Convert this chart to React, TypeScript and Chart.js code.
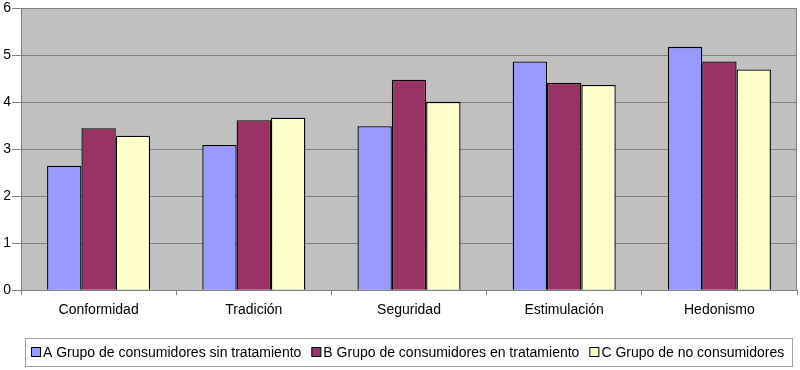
import React, { useEffect, useRef } from "react";
import { Chart, registerables } from "chart.js";

Chart.register(...registerables);

const categories = ["Conformidad", "Tradición", "Seguridad", "Estimulación", "Hedonismo"];
const seriesNames = [
  "A Grupo de consumidores sin tratamiento",
  "B Grupo de consumidores en tratamiento",
  "C Grupo de no consumidores",
];
const seriesA = [2.65, 3.09, 3.49, 4.87, 5.18];
const seriesB = [3.45, 3.62, 4.48, 4.41, 4.87];
const seriesC = [3.29, 3.67, 4.01, 4.37, 4.7];
const colors = ["#9999ff", "#993366", "#ffffcc"];

const FONT = "'Liberation Sans', Arial, sans-serif";

const bgPlugin = {
  id: "plotBg",
  beforeDraw(chart: any) {
    const { ctx, chartArea } = chart;
    ctx.save();
    ctx.fillStyle = "#c0c0c0";
    ctx.fillRect(chartArea.left, chartArea.top, chartArea.right - chartArea.left, chartArea.bottom - chartArea.top);
    ctx.restore();
  },
  afterDraw(chart: any) {
    const { ctx, chartArea } = chart;
    ctx.save();
    ctx.strokeStyle = "#808080";
    ctx.lineWidth = 1;
    ctx.beginPath();
    ctx.moveTo(Math.round(chartArea.right) - 0.5, chartArea.top);
    ctx.lineTo(Math.round(chartArea.right) - 0.5, chartArea.bottom);
    ctx.stroke();

    // legend
    const boxL = 25.5, boxT = 338.5, boxR = 792.5, boxB = 366.5;
    ctx.strokeStyle = "#a0a0a0";
    ctx.strokeRect(boxL, boxT, boxR - boxL, boxB - boxT);
    ctx.font = `14px ${FONT}`;
    ctx.textBaseline = "middle";
    ctx.textAlign = "left";
    const cy = 352;
    let x = 31;
    chart.data.datasets.forEach((ds: any) => {
      ctx.fillStyle = ds.backgroundColor;
      ctx.fillRect(x + 0.5, cy - 4.5, 9, 9);
      ctx.strokeStyle = "#000";
      ctx.strokeRect(x + 0.5, cy - 4.5, 9, 9);
      ctx.fillStyle = "#000";
      ctx.fillText(ds.label, x + 12, cy + 1);
      x += 12 + ctx.measureText(ds.label).width + 10;
    });
    ctx.restore();
  },
};

export default function App() {
  const ref = useRef<HTMLCanvasElement>(null);
  useEffect(() => {
    document.body.style.margin = "0";
    const values = [seriesA, seriesB, seriesC];
    const chart = new Chart(ref.current!, {
      type: "bar",
      data: {
        labels: categories,
        datasets: values.map((v, i) => ({
          label: seriesNames[i],
          data: v,
          backgroundColor: colors[i],
          borderColor: "#000000",
          borderWidth: 1.3,
          categoryPercentage: 0.664,
          barPercentage: 1,
        })),
      },
      options: {
        animation: false,
        responsive: false,
        maintainAspectRatio: false,
        layout: { padding: { left: 0, right: 3, top: 0, bottom: 44 } },
        plugins: {
          legend: { display: false },
          tooltip: { enabled: false },
        },
        scales: {
          x: {
            grid: {
              offset: true,
              drawOnChartArea: false,
              drawTicks: true,
              tickLength: 5,
              color: "#808080",
            },
            border: { color: "#808080" },
            ticks: {
              color: "#000",
              padding: 7,
              font: { family: FONT, size: 14 },
            },
          },
          y: {
            min: 0,
            max: 6,
            ticks: {
              stepSize: 1,
              color: "#000",
              padding: 1,
              font: { family: FONT, size: 14, lineHeight: 1.05 },
            },
            grid: { color: "#808080", tickLength: 9, drawTicks: true },
            border: { color: "#808080" },
            afterFit(scale: any) {
              scale.width = 21;
            },
          },
        },
      },
      plugins: [bgPlugin],
    });
    return () => chart.destroy();
  }, []);
  return <canvas ref={ref} width={800} height={370} style={{ display: "block" }} />;
}
